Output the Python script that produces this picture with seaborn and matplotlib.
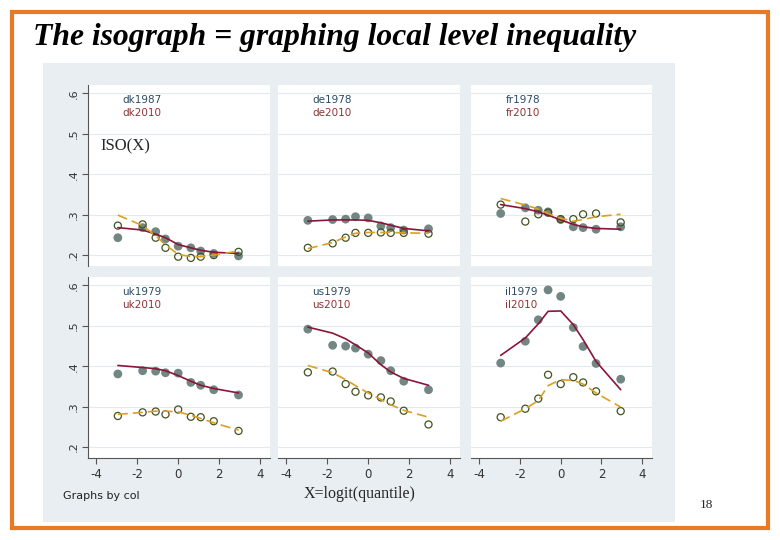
import numpy as np
import pandas as pd
import matplotlib
matplotlib.use("Agg")
import matplotlib.pyplot as plt
from matplotlib.patches import Rectangle
import seaborn as sns

sns.set_style("white")

W, H = 780, 540

# logit(quantile) positions: q = .05 .15 .25 .35 .5 .65 .75 .85 .95
logit_q = [-2.944, -1.735, -1.099, -0.619, 0.0, 0.619, 1.099, 1.735, 2.944]

countries = ["dk", "de", "fr", "uk", "us", "il"]
first_year = ["1987", "1978", "1978", "1979", "1979", "1979"]

# ISO(X) points, early year (filled) and 2010 (hollow)
dk_early = [0.243, 0.268, 0.258, 0.240, 0.222, 0.218, 0.210, 0.204, 0.198]
dk_2010 = [0.273, 0.276, 0.243, 0.218, 0.196, 0.193, 0.196, 0.200, 0.208]
de_early = [0.286, 0.288, 0.289, 0.295, 0.292, 0.272, 0.268, 0.262, 0.265]
de_2010 = [0.218, 0.229, 0.243, 0.255, 0.255, 0.256, 0.255, 0.255, 0.253]
fr_early = [0.303, 0.317, 0.311, 0.307, 0.288, 0.270, 0.268, 0.264, 0.270]
fr_2010 = [0.325, 0.283, 0.301, 0.305, 0.289, 0.289, 0.301, 0.303, 0.281]
uk_early = [0.381, 0.389, 0.388, 0.384, 0.383, 0.360, 0.353, 0.342, 0.329]
uk_2010 = [0.277, 0.286, 0.288, 0.281, 0.293, 0.275, 0.274, 0.264, 0.240]
us_early = [0.492, 0.452, 0.450, 0.445, 0.430, 0.414, 0.389, 0.363, 0.342]
us_2010 = [0.385, 0.387, 0.356, 0.337, 0.328, 0.323, 0.313, 0.290, 0.256]
il_early = [0.408, 0.462, 0.515, 0.589, 0.573, 0.496, 0.449, 0.407, 0.368]
il_2010 = [0.274, 0.295, 0.320, 0.379, 0.356, 0.373, 0.360, 0.338, 0.289]

# smoothed curves
dk_fit_early = [0.268, 0.262, 0.252, 0.243, 0.226, 0.218, 0.212, 0.207, 0.204]
dk_fit_2010 = [0.299, 0.273, 0.248, 0.225, 0.202, 0.196, 0.196, 0.200, 0.210]
de_fit_early = [0.284, 0.287, 0.287, 0.287, 0.286, 0.280, 0.274, 0.266, 0.260]
de_fit_2010 = [0.216, 0.231, 0.245, 0.254, 0.256, 0.256, 0.256, 0.255, 0.254]
fr_fit_early = [0.325, 0.315, 0.307, 0.299, 0.287, 0.276, 0.270, 0.266, 0.264]
fr_fit_2010 = [0.340, 0.324, 0.314, 0.303, 0.291, 0.284, 0.288, 0.295, 0.301]
uk_fit_early = [0.402, 0.397, 0.394, 0.389, 0.377, 0.363, 0.353, 0.345, 0.334]
uk_fit_2010 = [0.281, 0.286, 0.289, 0.289, 0.287, 0.279, 0.271, 0.260, 0.242]
us_fit_early = [0.497, 0.482, 0.468, 0.453, 0.433, 0.404, 0.386, 0.370, 0.353]
us_fit_2010 = [0.402, 0.384, 0.367, 0.352, 0.334, 0.318, 0.305, 0.291, 0.274]
il_fit_early = [0.427, 0.470, 0.505, 0.536, 0.537, 0.503, 0.466, 0.412, 0.342]
il_fit_2010 = [0.264, 0.295, 0.315, 0.352, 0.367, 0.365, 0.356, 0.334, 0.299]

series = {
    "dk": (dk_early, dk_2010, dk_fit_early, dk_fit_2010),
    "de": (de_early, de_2010, de_fit_early, de_fit_2010),
    "fr": (fr_early, fr_2010, fr_fit_early, fr_fit_2010),
    "uk": (uk_early, uk_2010, uk_fit_early, uk_fit_2010),
    "us": (us_early, us_2010, us_fit_early, us_fit_2010),
    "il": (il_early, il_2010, il_fit_early, il_fit_2010),
}

rows = []
for c in countries:
    e, l, fe, fl = series[c]
    for i, x in enumerate(logit_q):
        rows.append(dict(col=c, x=x, iso_early=e[i], iso_2010=l[i], fit_early=fe[i], fit_2010=fl[i]))
df = pd.DataFrame(rows)

GRAY = "#728684"
OLIVE = "#44521f"
MAROON = "#8b1538"
GOLD = "#d9a023"
BG = "#e8eef1"

fig = plt.figure(figsize=(W / 100, H / 100), dpi=100)
fig.patch.set_facecolor("white")


def px_rect(x0, y0, x1, y1):
    return [x0 / W, 1 - y1 / H, (x1 - x0) / W, (y1 - y0) / H]


# graph region background + slide border
r = px_rect(43, 63, 675, 522)
fig.patches.append(Rectangle((r[0], r[1]), r[2], r[3], transform=fig.transFigure,
                             facecolor=BG, edgecolor="none", zorder=-2))
r = px_rect(12, 12, 768, 528)
fig.patches.append(Rectangle((r[0], r[1]), r[2], r[3], transform=fig.transFigure,
                             facecolor="none", edgecolor="#e97a25", lw=3, zorder=5))

col_x = [(88, 270), (278, 460), (471, 652)]
row_y = [(85, 266), (277, 458)]
yt = [0.2, 0.3, 0.4, 0.5, 0.6]

for k, c in enumerate(countries):
    ri, ci = divmod(k, 3)
    ax = fig.add_axes(px_rect(col_x[ci][0], row_y[ri][0], col_x[ci][1], row_y[ri][1]))
    ax.set_facecolor("white")
    d = df[df["col"] == c]

    sns.scatterplot(data=d, x="x", y="iso_early", ax=ax, color=GRAY, s=40,
                    edgecolor="none", zorder=3, legend=False)
    sns.scatterplot(data=d, x="x", y="iso_2010", ax=ax, facecolor="none",
                    edgecolor=OLIVE, linewidth=0.9, s=26, zorder=3, legend=False)
    sns.lineplot(data=d, x="x", y="fit_early", ax=ax, color=MAROON, lw=1.2, zorder=4)
    sns.lineplot(data=d, x="x", y="fit_2010", ax=ax, color=GOLD, lw=1.2,
                 dashes=False, zorder=4).lines[-1].set_dashes([6, 3])

    ax.set_xlim(-4.4, 4.48)
    ax.set_ylim(0.173, 0.621)
    ax.set_yticks(yt)
    ax.set_xticks([-4, -2, 0, 2, 4])
    ax.yaxis.grid(True, color="#e3eaed", lw=0.8)
    ax.set_axisbelow(True)
    ax.set_xlabel("")
    ax.set_ylabel("")
    for s in ax.spines.values():
        s.set_visible(False)

    if ci == 0:
        ax.spines["left"].set_visible(True)
        ax.spines["left"].set_color("#555555")
        ax.spines["left"].set_linewidth(0.8)
        ax.set_yticklabels([".2", ".3", ".4", ".5", ".6"], rotation=90, va="center")
        ax.tick_params(axis="y", length=4, width=0.8, color="#555555",
                       labelsize=8, labelcolor="#333333", pad=3, left=True)
    else:
        ax.tick_params(axis="y", length=0, labelleft=False)

    if ri == 1:
        ax.spines["bottom"].set_visible(True)
        ax.spines["bottom"].set_color("#555555")
        ax.spines["bottom"].set_linewidth(0.8)
        ax.set_xticklabels(["-4", "-2", "0", "2", "4"])
        ax.tick_params(axis="x", length=4, width=0.8, color="#555555",
                       labelsize=8.5, labelcolor="#333333", pad=3, bottom=True)
    else:
        ax.tick_params(axis="x", length=0, labelbottom=False)

    ax.text(0.19, 0.917, c + first_year[k], transform=ax.transAxes, fontsize=7.5,
            color="#2b4a66", va="center", ha="left")
    ax.text(0.19, 0.845, c + "2010", transform=ax.transAxes, fontsize=7.5,
            color="#8c3434", va="center", ha="left")

fig.text(33 / W, 1 - 38 / H, "The isograph = graphing local level inequality",
         family="Liberation Serif", style="italic", weight="bold", fontsize=22.8,
         va="center", ha="left", color="black")
fig.text(100 / W, 1 - 146 / H, "ISO(X)", family="Liberation Serif", fontsize=12,
         va="center", ha="left", zorder=6)
fig.text(360 / W, 1 - 494 / H, "X=logit(quantile)", family="Liberation Serif",
         fontsize=11.5, va="center", ha="center")
fig.text(63 / W, 1 - 496 / H, "Graphs by col", fontsize=8, color="#222222",
         va="center", ha="left")
fig.text(706 / W, 1 - 505 / H, "18", family="Liberation Serif", fontsize=9.5,
         va="center", ha="center")

plt.savefig("out.png", dpi=100)
plt.close()
